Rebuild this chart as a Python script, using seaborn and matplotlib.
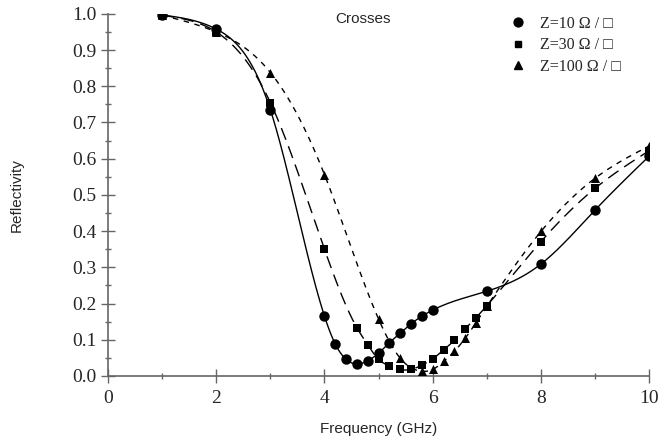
import numpy as np
import pandas as pd
import matplotlib
matplotlib.use("Agg")
import matplotlib.pyplot as plt
from matplotlib.lines import Line2D
from matplotlib.ticker import MultipleLocator
import seaborn as sns

# ---- data ----
x10 = [1, 2, 3, 4, 4.2, 4.4, 4.6, 4.8, 5.0, 5.2, 5.4, 5.6, 5.8, 6.0, 7, 8, 9, 10]
y10 = [0.997, 0.958, 0.735, 0.165, 0.088, 0.046, 0.033, 0.042, 0.063, 0.092, 0.118,
       0.144, 0.165, 0.182, 0.234, 0.309, 0.458, 0.607]

x30 = [1, 2, 3, 4, 4.6, 4.8, 5.0, 5.2, 5.4, 5.6, 5.8, 6.0, 6.2, 6.4, 6.6, 6.8, 7, 8, 9, 10]
y30 = [0.996, 0.950, 0.755, 0.350, 0.133, 0.086, 0.046, 0.028, 0.018, 0.018, 0.030,
       0.047, 0.072, 0.098, 0.130, 0.161, 0.194, 0.371, 0.518, 0.622]

x100 = [1, 2, 3, 4, 5.0, 5.4, 5.8, 6.0, 6.2, 6.4, 6.6, 6.8, 7, 8, 9, 10]
y100 = [0.996, 0.950, 0.838, 0.556, 0.157, 0.049, 0.013, 0.018, 0.040, 0.068, 0.104,
        0.147, 0.192, 0.399, 0.546, 0.635]

labels = ["Z=10 \u03a9 / \u25a1", "Z=30 \u03a9 / \u25a1", "Z=100 \u03a9 / \u25a1"]
title = "Crosses"
xlabel = "Frequency (GHz)"
ylabel = "Reflectivity"


def natural_spline(x, y, n=600):
    x = np.asarray(x, float)
    y = np.asarray(y, float)
    N = len(x)
    h = np.diff(x)
    A = np.zeros((N, N))
    b = np.zeros(N)
    A[0, 0] = 1
    A[-1, -1] = 1
    for i in range(1, N - 1):
        A[i, i - 1] = h[i - 1]
        A[i, i] = 2 * (h[i - 1] + h[i])
        A[i, i + 1] = h[i]
        b[i] = 6 * ((y[i + 1] - y[i]) / h[i] - (y[i] - y[i - 1]) / h[i - 1])
    M = np.linalg.solve(A, b)
    xs = np.linspace(x[0], x[-1], n)
    idx = np.clip(np.searchsorted(x, xs) - 1, 0, N - 2)
    hi = h[idx]
    a = (x[idx + 1] - xs) / hi
    c = (xs - x[idx]) / hi
    ys = (a * y[idx] + c * y[idx + 1]
          + ((a**3 - a) * M[idx] + (c**3 - c) * M[idx + 1]) * hi**2 / 6)
    return xs, ys


sns.set_style("white")
plt.rcParams["font.family"] = ["Liberation Sans", "DejaVu Sans"]

fig = plt.figure(figsize=(6.59, 4.40), dpi=100)
ax = fig.add_axes([0.164, 0.1455, 0.821, 0.823])

series = [
    (x10, y10, "o", 7.5, "-", labels[0]),
    (x30, y30, "s", 5.5, (0, (9, 5)), labels[1]),
    (x100, y100, "^", 6.5, (0, (4, 4)), labels[2]),
]

handles = []
for xs, ys, mk, ms, ls, lab in series:
    sx, sy = natural_spline(xs, ys)
    curve = pd.DataFrame({"f": sx, "r": sy})
    sns.lineplot(data=curve, x="f", y="r", color="black", lw=1.0, linestyle=ls,
                 ax=ax, zorder=2, legend=False, sort=False, estimator=None)
    df = pd.DataFrame({"f": xs, "r": ys})
    sns.scatterplot(data=df, x="f", y="r", marker=mk, s=ms**2, color="black",
                    edgecolor="black", linewidth=0, ax=ax, zorder=3, legend=False)
    handles.append(Line2D([], [], marker=mk, color="black", linestyle="none",
                          markersize=ms * 0.85, label=lab))

ax.set_xlim(0, 10)
ax.set_ylim(0, 1.0)
ax.xaxis.set_major_locator(MultipleLocator(2))
ax.xaxis.set_minor_locator(MultipleLocator(1))
ax.yaxis.set_major_locator(MultipleLocator(0.1))
ax.yaxis.set_minor_locator(MultipleLocator(0.05))
ax.yaxis.set_major_formatter(matplotlib.ticker.FormatStrFormatter("%.1f"))

for s in ["top", "right"]:
    ax.spines[s].set_visible(False)
for s in ["left", "bottom"]:
    ax.spines[s].set_color("#666666")
    ax.spines[s].set_linewidth(1.2)

ax.tick_params(which="major", direction="inout", length=10, width=1.0, color="#666666")
ax.tick_params(which="minor", direction="inout", length=5, width=1.0, color="#666666")
ax.tick_params(which="both", bottom=True, left=True)
ax.tick_params(axis="x", pad=5)
for lab in ax.get_xticklabels() + ax.get_yticklabels():
    lab.set_fontfamily(["Liberation Serif", "DejaVu Serif"])
    lab.set_fontsize(14)

ax.set_xlabel(xlabel, fontsize=11, labelpad=11)
ax.set_ylabel(ylabel, fontsize=11, labelpad=35)
ax.text(0.42, 0.986, title, transform=ax.transAxes, fontsize=11, ha="left", va="center")

leg = ax.legend(handles=handles, loc="upper right", bbox_to_anchor=(0.975, 1.035),
                frameon=False, handletextpad=0.4, labelspacing=0.35,
                prop={"family": ["Liberation Serif", "DejaVu Serif"], "size": 11.5})

fig.savefig("out.png", dpi=100)
